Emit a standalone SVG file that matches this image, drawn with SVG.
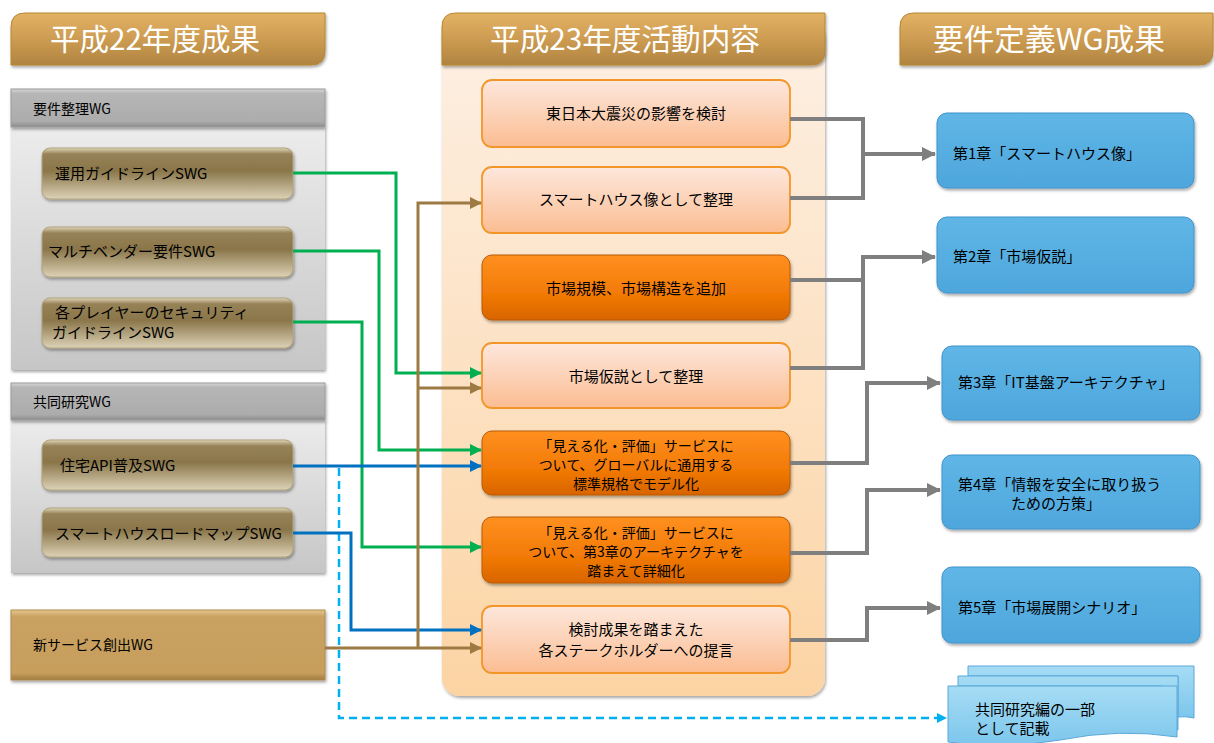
<svg xmlns="http://www.w3.org/2000/svg" width="1214" height="743" viewBox="0 0 1214 743">
<defs>
<linearGradient id="gold" x1="0" y1="0" x2="0" y2="1"><stop offset="0" stop-color="#e2b264"/><stop offset="0.5" stop-color="#cd9c52"/><stop offset="1" stop-color="#b08440"/></linearGradient>
<linearGradient id="panel" x1="0" y1="0" x2="0" y2="1"><stop offset="0" stop-color="#fdf0e4"/><stop offset="1" stop-color="#fcd4a4"/></linearGradient>
<linearGradient id="grey" x1="0" y1="0" x2="0" y2="1"><stop offset="0" stop-color="#ececec"/><stop offset="1" stop-color="#c6c6c6"/></linearGradient>
<linearGradient id="bar" x1="0" y1="0" x2="0" y2="1"><stop offset="0" stop-color="#d6d6d6"/><stop offset="0.12" stop-color="#b6b6b6"/><stop offset="0.85" stop-color="#acacac"/><stop offset="1" stop-color="#8c8c8c"/></linearGradient>
<linearGradient id="olive" x1="0" y1="0" x2="0" y2="1"><stop offset="0" stop-color="#e0d6b8"/><stop offset="0.12" stop-color="#968256"/><stop offset="0.45" stop-color="#8a764a"/><stop offset="1" stop-color="#dcd2b6"/></linearGradient>
<linearGradient id="newsv" x1="0" y1="0" x2="0" y2="1"><stop offset="0" stop-color="#e6c68e"/><stop offset="0.1" stop-color="#c9a160"/><stop offset="0.9" stop-color="#c79e5c"/><stop offset="1" stop-color="#a07c40"/></linearGradient>
<linearGradient id="light" x1="0" y1="0" x2="0" y2="1"><stop offset="0" stop-color="#fde7dc"/><stop offset="1" stop-color="#fbbd92"/></linearGradient>
<linearGradient id="dark" x1="0" y1="0" x2="0" y2="1"><stop offset="0" stop-color="#ff9020"/><stop offset="0.6" stop-color="#f27a06"/><stop offset="1" stop-color="#d86400"/></linearGradient>
<linearGradient id="blue" x1="0" y1="0" x2="0" y2="1"><stop offset="0" stop-color="#5fb6e6"/><stop offset="1" stop-color="#4ea6dc"/></linearGradient>
<linearGradient id="doc" x1="0" y1="0" x2="0" y2="1"><stop offset="0" stop-color="#a6dcf4"/><stop offset="1" stop-color="#7cc6ec"/></linearGradient>
<filter id="sh" x="-10%" y="-10%" width="120%" height="130%"><feDropShadow dx="1" dy="2" stdDeviation="1.5" flood-color="#000" flood-opacity="0.35"/></filter>
<marker id="aG" viewBox="0 0 12 12" refX="11" refY="6" markerWidth="12" markerHeight="12" markerUnits="userSpaceOnUse" orient="auto"><path d="M0,0 L12,6 L0,12 Z" fill="#00b050"/></marker>
<marker id="aB" viewBox="0 0 12 12" refX="11" refY="6" markerWidth="12" markerHeight="12" markerUnits="userSpaceOnUse" orient="auto"><path d="M0,0 L12,6 L0,12 Z" fill="#0070c0"/></marker>
<marker id="aBr" viewBox="0 0 12 12" refX="11" refY="6" markerWidth="12" markerHeight="12" markerUnits="userSpaceOnUse" orient="auto"><path d="M0,0 L12,6 L0,12 Z" fill="#9c7a42"/></marker>
<marker id="aGr" viewBox="0 0 14 14" refX="13" refY="7" markerWidth="14" markerHeight="14" markerUnits="userSpaceOnUse" orient="auto"><path d="M0,0 L14,7 L0,14 Z" fill="#7f7f7f"/></marker>
<marker id="aL" viewBox="0 0 10 10" refX="9" refY="5" markerWidth="10" markerHeight="10" markerUnits="userSpaceOnUse" orient="auto"><path d="M0,0 L10,5 L0,10 Z" fill="#00b0f0"/></marker>
</defs>
<style>
text{font-family:"Noto Sans CJK JP","Noto Sans",sans-serif;fill:#000}
.hd{fill:#fff;font-size:30px}
.sm{font-size:14px}
.md{font-size:15px}
.ch{font-size:15px}
.ct{font-size:15px;text-anchor:middle}
.ct3{font-size:14px;text-anchor:middle}
.hdr{fill:url(#gold);stroke:#b7862e;stroke-width:1;filter:url(#sh)}
.olive{fill:url(#olive);stroke:#b0a27e;stroke-width:1;filter:url(#sh)}
.lt{fill:url(#light);stroke:#f3962a;stroke-width:1.8}
.dk{fill:url(#dark);stroke:#b85a08;stroke-width:1;filter:url(#sh)}
.bl{fill:url(#blue);stroke:#3f94cc;stroke-width:1;filter:url(#sh)}
.g{fill:none;stroke:#00b050;stroke-width:3;marker-end:url(#aG)}
.b{fill:none;stroke:#0070c0;stroke-width:3;marker-end:url(#aB)}
.br{fill:none;stroke:#9c7a42;stroke-width:3}
.gr{fill:none;stroke:#7f7f7f;stroke-width:4}
</style>

<g id="panel-center">
<rect x="442" y="20" width="383" height="676" rx="18" fill="url(#panel)" filter="url(#sh)"/>
</g>

<g id="hdr-h22">
<path class="hdr" d="M25 13 H325 V51 Q325 65 311 65 H11 V27 Q11 13 25 13 Z"/>
<text class="hd" x="50" y="50" textLength="210" lengthAdjust="spacingAndGlyphs">平成22年度成果</text>
</g>
<g id="hdr-h23">
<path class="hdr" d="M456 13 H825 V51 Q825 65 811 65 H442 V27 Q442 13 456 13 Z"/>
<text class="hd" x="490" y="50" textLength="270" lengthAdjust="spacingAndGlyphs">平成23年度活動内容</text>
</g>
<g id="hdr-wg">
<path class="hdr" d="M914 13 H1213 V51 Q1213 65 1199 65 H900 V27 Q900 13 914 13 Z"/>
<text class="hd" x="933" y="50" textLength="232" lengthAdjust="spacingAndGlyphs">要件定義WG成果</text>
</g>

<g id="grp-youken">
<rect x="11" y="127" width="314" height="243" fill="url(#grey)" filter="url(#sh)"/>
<rect x="11" y="89" width="314" height="38" fill="url(#bar)" stroke="#9a9a9a" stroke-width="1" filter="url(#sh)"/>
<text class="sm" x="33" y="114">要件整理WG</text>
</g>
<g id="n-unyou">
<rect class="olive" x="42" y="148" width="251" height="51" rx="8"/>
<text class="md" x="55" y="179">運用ガイドラインSWG</text>
</g>
<g id="n-multi">
<rect class="olive" x="42" y="227" width="251" height="50" rx="8"/>
<text class="md" x="48" y="257">マルチベンダー要件SWG</text>
</g>
<g id="n-security">
<rect class="olive" x="42" y="298" width="251" height="50" rx="8"/>
<text class="md" x="55" y="318">各プレイヤーのセキュリティ</text>
<text class="md" x="52" y="338">ガイドラインSWG</text>
</g>

<g id="grp-kyodo">
<rect x="11" y="420" width="314" height="153" fill="url(#grey)" filter="url(#sh)"/>
<rect x="11" y="383" width="314" height="37" fill="url(#bar)" stroke="#9a9a9a" stroke-width="1" filter="url(#sh)"/>
<text class="sm" x="33" y="407">共同研究WG</text>
</g>
<g id="n-api">
<rect class="olive" x="42" y="440" width="251" height="50" rx="8"/>
<text class="md" x="60" y="471">住宅API普及SWG</text>
</g>
<g id="n-roadmap">
<rect class="olive" x="42" y="508" width="251" height="49" rx="8"/>
<text class="md" x="55" y="539">スマートハウスロードマップSWG</text>
</g>

<g id="n-newservice">
<rect x="11" y="610" width="314" height="70" fill="url(#newsv)" stroke="#b08c50" stroke-width="1" filter="url(#sh)"/>
<text class="sm" x="33" y="650">新サービス創出WG</text>
</g>

<g id="c-shinsai">
<rect class="lt" x="482" y="80" width="308" height="67" rx="10"/>
<text class="ct" x="636" y="119">東日本大震災の影響を検討</text>
</g>
<g id="c-smarthouse">
<rect class="lt" x="482" y="167" width="308" height="66" rx="10"/>
<text class="ct" x="636" y="205">スマートハウス像として整理</text>
</g>
<g id="c-kibo">
<rect class="dk" x="482" y="255" width="308" height="65" rx="10"/>
<text class="ct" x="636" y="294">市場規模、市場構造を追加</text>
</g>
<g id="c-kasetsu">
<rect class="lt" x="482" y="343" width="308" height="65" rx="10"/>
<text class="ct" x="636" y="382">市場仮説として整理</text>
</g>
<g id="c-mieruka1">
<rect class="dk" x="482" y="431" width="308" height="64" rx="10"/>
<text class="ct3" x="636" y="451">「見える化・評価」サービスに</text>
<text class="ct3" x="636" y="470">ついて、グローバルに通用する</text>
<text class="ct3" x="636" y="489">標準規格でモデル化</text>
</g>
<g id="c-mieruka2">
<rect class="dk" x="482" y="517" width="308" height="66" rx="10"/>
<text class="ct3" x="636" y="538">「見える化・評価」サービスに</text>
<text class="ct3" x="636" y="557">ついて、第3章のアーキテクチャを</text>
<text class="ct3" x="636" y="576">踏まえて詳細化</text>
</g>
<g id="c-teigen">
<rect class="lt" x="482" y="606" width="308" height="67" rx="10"/>
<text class="ct" x="636" y="635">検討成果を踏まえた</text>
<text class="ct" x="636" y="656">各ステークホルダーへの提言</text>
</g>

<g id="r-ch1">
<rect class="bl" x="937" y="113" width="257" height="75" rx="10"/>
<text class="ch" x="953" y="159">第1章「スマートハウス像」</text>
</g>
<g id="r-ch2">
<rect class="bl" x="937" y="217" width="257" height="76" rx="10"/>
<text class="ch" x="953" y="262">第2章「市場仮説」</text>
</g>
<g id="r-ch3">
<rect class="bl" x="942" y="346" width="258" height="74" rx="10"/>
<text class="ch" x="958" y="388">第3章「IT基盤アーキテクチャ」</text>
</g>
<g id="r-ch4">
<rect class="bl" x="942" y="455" width="258" height="74" rx="10"/>
<text class="ch" x="958" y="490">第4章「情報を安全に取り扱う</text>
<text class="ch" x="1011" y="509">ための方策」</text>
</g>
<g id="r-ch5">
<rect class="bl" x="942" y="567" width="258" height="76" rx="10"/>
<text class="ch" x="958" y="613">第5章「市場展開シナリオ」</text>
</g>
<g id="r-doc">
<path d="M968 666 H1194 V718 Q1185 716 1178 717 V676 H968 Z" fill="url(#doc)" stroke="#5aa8d8" stroke-width="1"/>
<path d="M958 676 H1178 V730 Q1170 727 1162 728 V686 H958 Z" fill="url(#doc)" stroke="#5aa8d8" stroke-width="1"/>
<path d="M948 686 H1177 V737 Q1120 728 1060 740 Q1000 750 948 742 Z" fill="url(#doc)" stroke="#5aa8d8" stroke-width="1"/>
<text class="ch" x="975" y="715">共同研究編の一部</text>
<text class="ch" x="975" y="734">として記載</text>
</g>

<g id="connectors">
<path class="gr" d="M790 119 H863 V198 H790"/>
<path class="gr" d="M863 154 H935" marker-end="url(#aGr)"/>
<path class="gr" d="M790 280 H863 V368 H790"/>
<path class="gr" d="M863 280 V257 H935" marker-end="url(#aGr)"/>
<path class="gr" d="M790 463 H867 V383 H940" marker-end="url(#aGr)"/>
<path class="gr" d="M790 553 H867 V490 H940" marker-end="url(#aGr)"/>
<path class="gr" d="M790 640 H867 V608 H940" marker-end="url(#aGr)"/>

<path d="M339 468 V718 H946" fill="none" stroke="#00b0f0" stroke-width="2.5" stroke-dasharray="8,5" marker-end="url(#aL)"/>

<path class="g" d="M293 173 H396 V373 H481"/>
<path class="g" d="M293 251 H379 V450 H481"/>
<path class="g" d="M293 322 H362 V547 H481"/>

<path class="b" d="M293 466 H481"/>
<path class="b" d="M293 533 H351 V630 H481"/>

<path class="br" d="M325 648 H481" marker-end="url(#aBr)"/>
<path class="br" d="M418 648 V203 H481" marker-end="url(#aBr)"/>
<path class="br" d="M418 388 H481" marker-end="url(#aBr)"/>
</g>
</svg>
